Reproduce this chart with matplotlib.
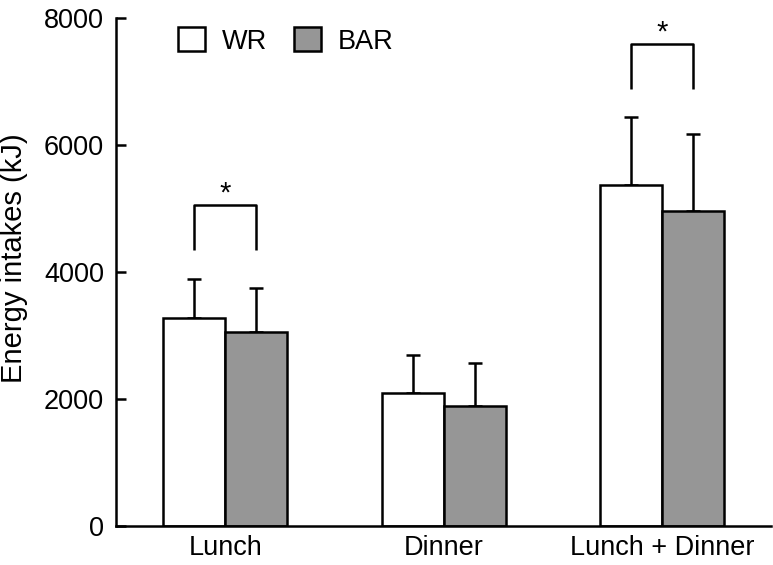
import numpy as np
import matplotlib.pyplot as plt

plt.rcParams['font.family'] = ['Liberation Sans', 'DejaVu Sans']

# Data
categories = ["Lunch", "Dinner", "Lunch + Dinner"]
wr_mean = [3280, 2090, 5370]
wr_sd = [610, 600, 1075]
bar_mean = [3060, 1895, 4965]
bar_sd = [685, 665, 1205]

# significance brackets: (group index, bracket top, leg bottom)
sig = [(0, 5060, 4340), (2, 7590, 6880)]

x = np.arange(len(categories))
w = 0.284
lw = 1.8

fig = plt.figure(figsize=(7.73, 5.65), dpi=100)
ax = fig.add_axes([0.150, 0.069, 0.848, 0.899])

err_kw = dict(ecolor='black', elinewidth=lw, capsize=5, capthick=lw)
ax.bar(x - w/2, wr_mean, w, color='white', edgecolor='black', linewidth=lw,
       label='WR', zorder=2)
ax.bar(x + w/2, bar_mean, w, color='#969696', edgecolor='black', linewidth=lw,
       label='BAR', zorder=2)
ax.errorbar(x - w/2, wr_mean, yerr=[np.zeros(3), wr_sd], fmt='none', zorder=1, **err_kw)
ax.errorbar(x + w/2, bar_mean, yerr=[np.zeros(3), bar_sd], fmt='none', zorder=1, **err_kw)

# Significance brackets
for i, top, low in sig:
    ax.plot([i - w/2, i - w/2, i + w/2, i + w/2], [low, top, top, low],
            color='black', linewidth=lw, solid_capstyle='butt')
    ax.text(i, top + 180, '*', ha='center', va='center', fontsize=21)

ax.set_xlim(-0.5, 2.5)
ax.set_ylim(0, 8000)
ax.set_yticks([0, 2000, 4000, 6000, 8000])
ax.set_xticks(x)
ax.set_xticklabels(categories)
ax.set_ylabel("Energy intakes (kJ)", fontsize=21)
ax.yaxis.set_label_coords(-0.134, 0.527)

ax.tick_params(axis='y', direction='in', length=7, width=lw, labelsize=19.5, pad=8.5)
ax.tick_params(axis='x', length=0, labelsize=19.5, pad=6.5)

ax.spines['top'].set_visible(False)
ax.spines['right'].set_visible(False)
ax.spines['left'].set_linewidth(lw)
ax.spines['bottom'].set_linewidth(lw)

ax.legend(loc='upper left', bbox_to_anchor=(0.057, 1.03), ncol=2, frameon=False,
          fontsize=19.5, handlelength=1.0, handleheight=1.0, handletextpad=0.62,
          columnspacing=1.0)

fig.savefig("out.png", dpi=100)
